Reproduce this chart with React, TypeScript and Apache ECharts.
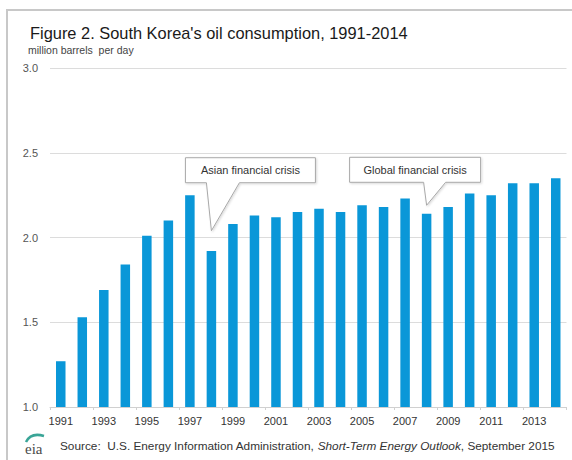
import React, { useEffect, useRef } from "react";
import * as echarts from "echarts";

const years = [
  "1991", "1992", "1993", "1994", "1995", "1996", "1997", "1998",
  "1999", "2000", "2001", "2002", "2003", "2004", "2005", "2006",
  "2007", "2008", "2009", "2010", "2011", "2012", "2013", "2014",
];
const consumption = [
  1.27, 1.53, 1.69, 1.84, 2.01, 2.1, 2.25, 1.92,
  2.08, 2.13, 2.12, 2.15, 2.17, 2.15, 2.19, 2.18,
  2.23, 2.14, 2.18, 2.26, 2.25, 2.32, 2.32, 2.35,
];
const yMin = 1.0;
const yMax = 3.0;
const yStep = 0.5;

const titleText = "Figure 2. South Korea's oil consumption, 1991-2014";
const unitText = "million barrels  per day";

const annotations = [
  { label: "Asian financial crisis", year: "1998", value: 2.04, box: [-26, -73, 130, 25], base: [-5, 28] },
  { label: "Global financial crisis", year: "2008", value: 2.19, box: [-77, -48, 131, 25], base: [-3, 19] },
];

const FONT = "'Liberation Sans', Arial, Helvetica, sans-serif";

export default function App() {
  const ref = useRef<HTMLDivElement>(null);

  useEffect(() => {
    if (!ref.current) return;
    const chart = echarts.init(ref.current, undefined, { renderer: "svg" });
    chart.setOption({
      animation: false,
      backgroundColor: "#ffffff",
      grid: { left: 50, right: 5.5, top: 68, bottom: 53, containLabel: false },
      xAxis: {
        type: "category",
        data: years,
        boundaryGap: true,
        axisLine: { show: true, lineStyle: { color: "#d0d0d0", width: 1 } },
        axisTick: { show: true, length: 3, lineStyle: { color: "#d0d0d0" } },
        axisLabel: { interval: 1, color: "#333", fontSize: 11, fontFamily: FONT, margin: 8 },
      },
      yAxis: {
        type: "value",
        min: yMin,
        max: yMax,
        interval: yStep,
        axisLine: { show: false },
        axisTick: { show: false },
        splitLine: { lineStyle: { color: "#dcdcdc", width: 1 } },
        axisLabel: {
          color: "#555",
          fontSize: 11,
          fontFamily: FONT,
          margin: 12,
          formatter: (v: number) => v.toFixed(1),
        },
      },
      series: [
        {
          type: "bar",
          data: consumption,
          barWidth: 9.5,
          itemStyle: { color: "#0a97d8" },
        },
      ],
    });

    const calloutEls: any[] = [];
    annotations.forEach((a) => {
      const p = chart.convertToPixel({ xAxisIndex: 0, yAxisIndex: 0 }, [a.year, a.value]) as number[];
      const tx = p[0];
      const ty = p[1];
      const bx = tx + a.box[0];
      const by = ty + a.box[1];
      const bw = a.box[2];
      const bh = a.box[3];
      const bottom = by + bh;
      calloutEls.push({
        type: "polygon",
        shape: {
          points: [
            [bx, by],
            [bx + bw, by],
            [bx + bw, bottom],
            [tx + a.base[1], bottom],
            [tx, ty],
            [tx + a.base[0], bottom],
            [bx, bottom],
          ],
        },
        style: {
          fill: "#ffffff",
          stroke: "#a8a8a8",
          lineWidth: 1,
          shadowBlur: 2,
          shadowOffsetX: 1,
          shadowOffsetY: 1,
          shadowColor: "rgba(0,0,0,0.15)",
        },
        z: 10,
      });
      calloutEls.push({
        type: "text",
        x: bx + bw / 2,
        y: by + bh / 2,
        style: {
          text: a.label,
          fill: "#333",
          fontSize: 11,
          fontFamily: FONT,
          align: "center",
          verticalAlign: "middle",
        },
        z: 11,
      });
    });

    chart.setOption({
      graphic: [
        {
          type: "rect",
          shape: { x: 7, y: 10, width: 600, height: 500 },
          style: { fill: "none", stroke: "#c8c8c8", lineWidth: 2 },
          silent: true,
        },
        {
          type: "text",
          x: 30,
          y: 33,
          style: {
            text: titleText,
            fill: "#1a1a1a",
            fontSize: 16.4,
            fontFamily: FONT,
            verticalAlign: "middle",
          },
        },
        {
          type: "text",
          x: 28,
          y: 50,
          style: {
            text: unitText,
            fill: "#444",
            fontSize: 10.5,
            fontFamily: FONT,
            verticalAlign: "middle",
          },
        },
        {
          type: "bezierCurve",
          shape: { x1: 26, y1: 442, cpx1: 31, cpy1: 432, x2: 44, y2: 436 },
          style: { stroke: "#3aa597", lineWidth: 2.5, fill: "none" },
        },
        {
          type: "text",
          x: 25,
          y: 449,
          style: {
            text: "eia",
            fill: "#4a4a4a",
            fontSize: 15,
            fontFamily: "'Liberation Serif', 'DejaVu Serif', serif",
            verticalAlign: "middle",
          },
        },
        {
          type: "text",
          x: 60,
          y: 446,
          style: {
            text: "{a|Source:  U.S. Energy Information Administration, }{b|Short-Term Energy Outlook}{a|, September 2015}",
            verticalAlign: "middle",
            rich: {
              a: { fontSize: 11.8, fontFamily: FONT, fill: "#333" },
              b: { fontSize: 11.8, fontFamily: FONT, fill: "#333", fontStyle: "italic" },
            },
          },
        },
        ...calloutEls,
      ],
    });

    return () => chart.dispose();
  }, []);

  return (
    <div
      ref={ref}
      style={{ position: "fixed", left: 0, top: 0, width: 572, height: 460 }}
    />
  );
}
